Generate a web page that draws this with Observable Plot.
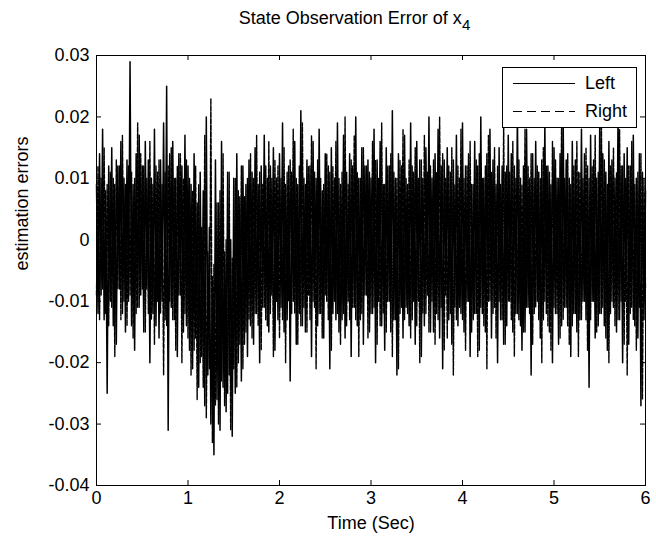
<!DOCTYPE html>
<html><head><meta charset="utf-8">
<script src="https://cdn.jsdelivr.net/npm/d3@7"></script>
<script src="https://cdn.jsdelivr.net/npm/@observablehq/plot@0.6"></script>
<style>
body{margin:0;background:#fff;}
#wrap{position:relative;width:656px;height:544px;font-family:"Liberation Sans",Arial,sans-serif;color:#000;}
#title{position:absolute;left:80px;width:549px;top:8px;text-align:center;font-size:18px;}
#title sub{font-size:15px;vertical-align:-6px;line-height:0;}
#legend{position:absolute;left:502px;top:67px;width:135px;height:61px;border:1px solid #000;background:#fff;box-sizing:border-box;}
</style>
</head><body>
<div id="wrap">
<div id="title">State Observation Error of x<sub>4</sub></div>
</div>
<script>
// sampling step of both signals (seconds)
const sampleStep = 1/60;
// Left estimation error, in units of 0.001 (milli)
const leftMilli = [
 9,-12,14,-9,18,-13,8,-25,12,-10,
 15,-14,9,-17,12,-8,16,-12,10,-15,
 13,-10,29,-14,9,-18,14,-11,17,-9,
 12,-15,16,-8,13,-20,10,-12,18,-14,
 11,-16,13,-10,19,-13,25,-31,14,-11,
 16,-13,10,-19,14,-9,12,-15,17,-14,
 12,-18,9,-21,14,-16,6,-24,11,-19,
 8,-27,20,-22,2,-30,-6,-35,13,-26,
 6,-31,16,-24,-2,-28,11,-22,0,-32,
 10,-25,14,-20,7,-23,12,-17,9,-19,
 13,-14,11,-17,15,-12,9,-20,12,-11,
 17,-13,10,-15,12,-9,15,-18,10,-13,
 14,-11,19,-15,9,-13,12,-23,11,-10,
 16,-17,9,-12,21,-14,10,-15,13,-9,
 12,-19,16,-11,10,-14,18,-12,8,-16,
 14,-10,12,-21,15,-12,10,-13,19,-15,
 9,-13,17,-16,11,-10,14,-19,12,-11,
 20,-14,10,-13,15,-17,12,-9,13,-15,
 10,-12,18,-20,13,-10,16,-14,9,-18,
 15,-10,12,-15,21,-13,10,-22,14,-12,
 12,-16,17,-11,9,-14,19,-13,11,-17,
 16,-10,13,-19,10,-14,15,-9,20,-15,
 10,-15,14,-12,18,-16,12,-21,13,-9,
 15,-13,11,-17,13,-11,17,-14,10,-12,
 19,-15,12,-10,14,-19,9,-13,16,-12,
 12,-18,20,-12,10,-15,14,-10,18,-16,
 13,-11,9,-20,15,-13,12,-17,11,-14,
 17,-10,14,-15,12,-12,21,-13,10,-18,
 12,-15,18,-11,10,-22,14,-12,16,-10,
 11,-16,13,-13,19,-12,12,-15,9,-20,
 15,-12,10,-17,14,-14,20,-11,13,-14,
 10,-19,16,-12,13,-15,11,-13,18,-10,
 14,-13,12,-24,17,-10,13,-16,10,-14,
 19,-12,14,-14,11,-18,16,-12,13,-11,
 10,-15,21,-13,12,-20,14,-10,15,-17,
 12,-11,17,-14,10,-16,14,-27,11,-13,
 8
];
// Right estimation error, in units of 0.001 (milli)
const rightMilli = [
 -9,12,-13,10,-8,15,-12,9,-14,11,
 -11,10,-19,13,-8,12,-13,17,-10,9,
 -14,12,-9,11,-16,10,-12,19,-11,14,
 -8,12,-15,10,-12,16,-13,9,-17,12,
 -10,13,-12,9,-22,11,-14,12,-10,15,
 -13,10,-18,12,-9,14,-20,10,-12,13,
 -16,10,-22,8,-18,12,-26,9,-20,2,
 -24,17,-29,-2,-21,23,-33,-4,-27,6,
 -30,8,-23,14,-27,0,-25,11,-31,-3,
 -21,10,-24,8,-17,12,-21,7,-15,10,
 -13,14,-16,10,-12,17,-14,11,-18,9,
 -11,12,-14,16,-12,10,-19,13,-10,12,
 -16,10,-13,15,-20,11,-10,13,-12,18,
 -12,10,-17,12,-14,19,-11,9,-15,12,
 -13,17,-10,11,-21,13,-12,10,-16,9,
 -9,14,-13,11,-18,12,-10,16,-12,10,
 -17,11,-12,20,-14,9,-13,13,-11,17,
 -13,11,-19,10,-12,15,-9,12,-16,11,
 -12,16,-11,13,-17,10,-14,19,-12,9,
 -15,12,-10,14,-19,11,-13,10,-21,13,
 -11,18,-13,10,-12,13,-16,12,-10,15,
 -14,10,-20,13,-12,17,-12,11,-15,12,
 -10,13,-17,11,-13,20,-11,14,-18,10,
 -16,12,-12,15,-22,9,-13,12,-11,18,
 -13,10,-18,12,-10,16,-15,9,-12,13,
 -19,14,-11,10,-14,12,-21,17,-10,11,
 -12,15,-16,12,-10,9,-13,19,-17,12,
 -10,11,-13,16,-19,10,-12,13,-14,9,
 -15,18,-11,12,-12,14,-17,10,-11,12,
 -13,10,-20,15,-10,12,-14,11,-18,16,
 -11,13,-12,10,-16,20,-13,10,-11,14,
 -17,9,-14,12,-12,16,-19,11,-13,10,
 -10,15,-18,10,-13,12,-10,17,-15,11,
 -12,22,-11,13,-16,9,-20,12,-10,15,
 -14,11,-13,18,-10,12,-17,10,-22,12,
 -12,16,-13,9,-18,11,-11,14,-26,10,
 -8
];
const seriesNames = ["Left", "Right"];
const xTickValues = [0,1,2,3,4,5,6];
const yTickValues = [-0.04,-0.03,-0.02,-0.01,0,0.01,0.02,0.03];
const xLabel = "Time (Sec)";
const yLabel = "estimation errors";

const toRows = (arr, name) => arr.map((v, i) => ({t: i * sampleStep, e: v / 1000, s: name}));
const leftRows = toRows(leftMilli, seriesNames[0]);
const rightRows = toRows(rightMilli, seriesNames[1]);

const W = 656, H = 544, mL = 96, mR = 11, mT = 55, mB = 59;
const fw = W - mL - mR, fh = H - mT - mB, tl = 5;
const font = "Liberation Sans, Arial, sans-serif";
const fmtY = d => d === 0 ? "0" : (d < 0 ? "-" : "") + Math.abs(d).toFixed(2);

const chart = Plot.plot({
  width: W, height: H,
  marginLeft: mL, marginRight: mR, marginTop: mT, marginBottom: mB,
  x: {domain: [0, 6]},
  y: {domain: [-0.04, 0.03]},
  style: {fontFamily: font, fontSize: "17px", background: "#fff", color: "#000"},
  marks: [
    Plot.lineY(leftRows, {x: "t", y: "e", stroke: "#000", strokeWidth: 1.5}),
    Plot.lineY(rightRows, {x: "t", y: "e", stroke: "#000", strokeWidth: 1.4, strokeDasharray: "5,1.5"}),
    Plot.frame({stroke: "#000"}),
    Plot.tickY(yTickValues, {y: d => d, insetRight: fw - tl, stroke: "#000"}),
    Plot.tickY(yTickValues, {y: d => d, insetLeft: fw - tl, stroke: "#000"}),
    Plot.tickX(xTickValues, {x: d => d, insetTop: fh - tl, stroke: "#000"}),
    Plot.tickX(xTickValues, {x: d => d, insetBottom: fh - tl, stroke: "#000"}),
    Plot.axisX(xTickValues, {tickSize: 0, tickPadding: 6, label: null, fontSize: 18, tickFormat: d => String(d)}),
    Plot.axisY(yTickValues, {tickSize: 0, tickPadding: 7, label: null, fontSize: 18, tickFormat: fmtY}),
    Plot.text([xLabel], {frameAnchor: "bottom", dy: 38, text: d => d, fontSize: 18, lineAnchor: "middle"}),
    Plot.text([yLabel], {frameAnchor: "left", dx: -74, rotate: -90, text: d => d, fontSize: 18, lineAnchor: "middle"})
  ]
});
const wrap = document.getElementById("wrap");
wrap.insertBefore(chart, wrap.firstChild);

// legend box (HTML overlay)
const leg = document.createElement("div");
leg.id = "legend";
leg.innerHTML = `<svg width="133" height="59" style="display:block">
  <line x1="10" x2="72" y1="15.5" y2="15.5" stroke="#000" stroke-width="1"/>
  <text x="82" y="21" font-size="18" font-family="${font}">${seriesNames[0]}</text>
  <line x1="10" x2="72" y1="43.5" y2="43.5" stroke="#000" stroke-width="1" stroke-dasharray="9,5"/>
  <text x="82" y="49" font-size="18" font-family="${font}">${seriesNames[1]}</text>
</svg>`;
wrap.appendChild(leg);
</script>
</body></html>
